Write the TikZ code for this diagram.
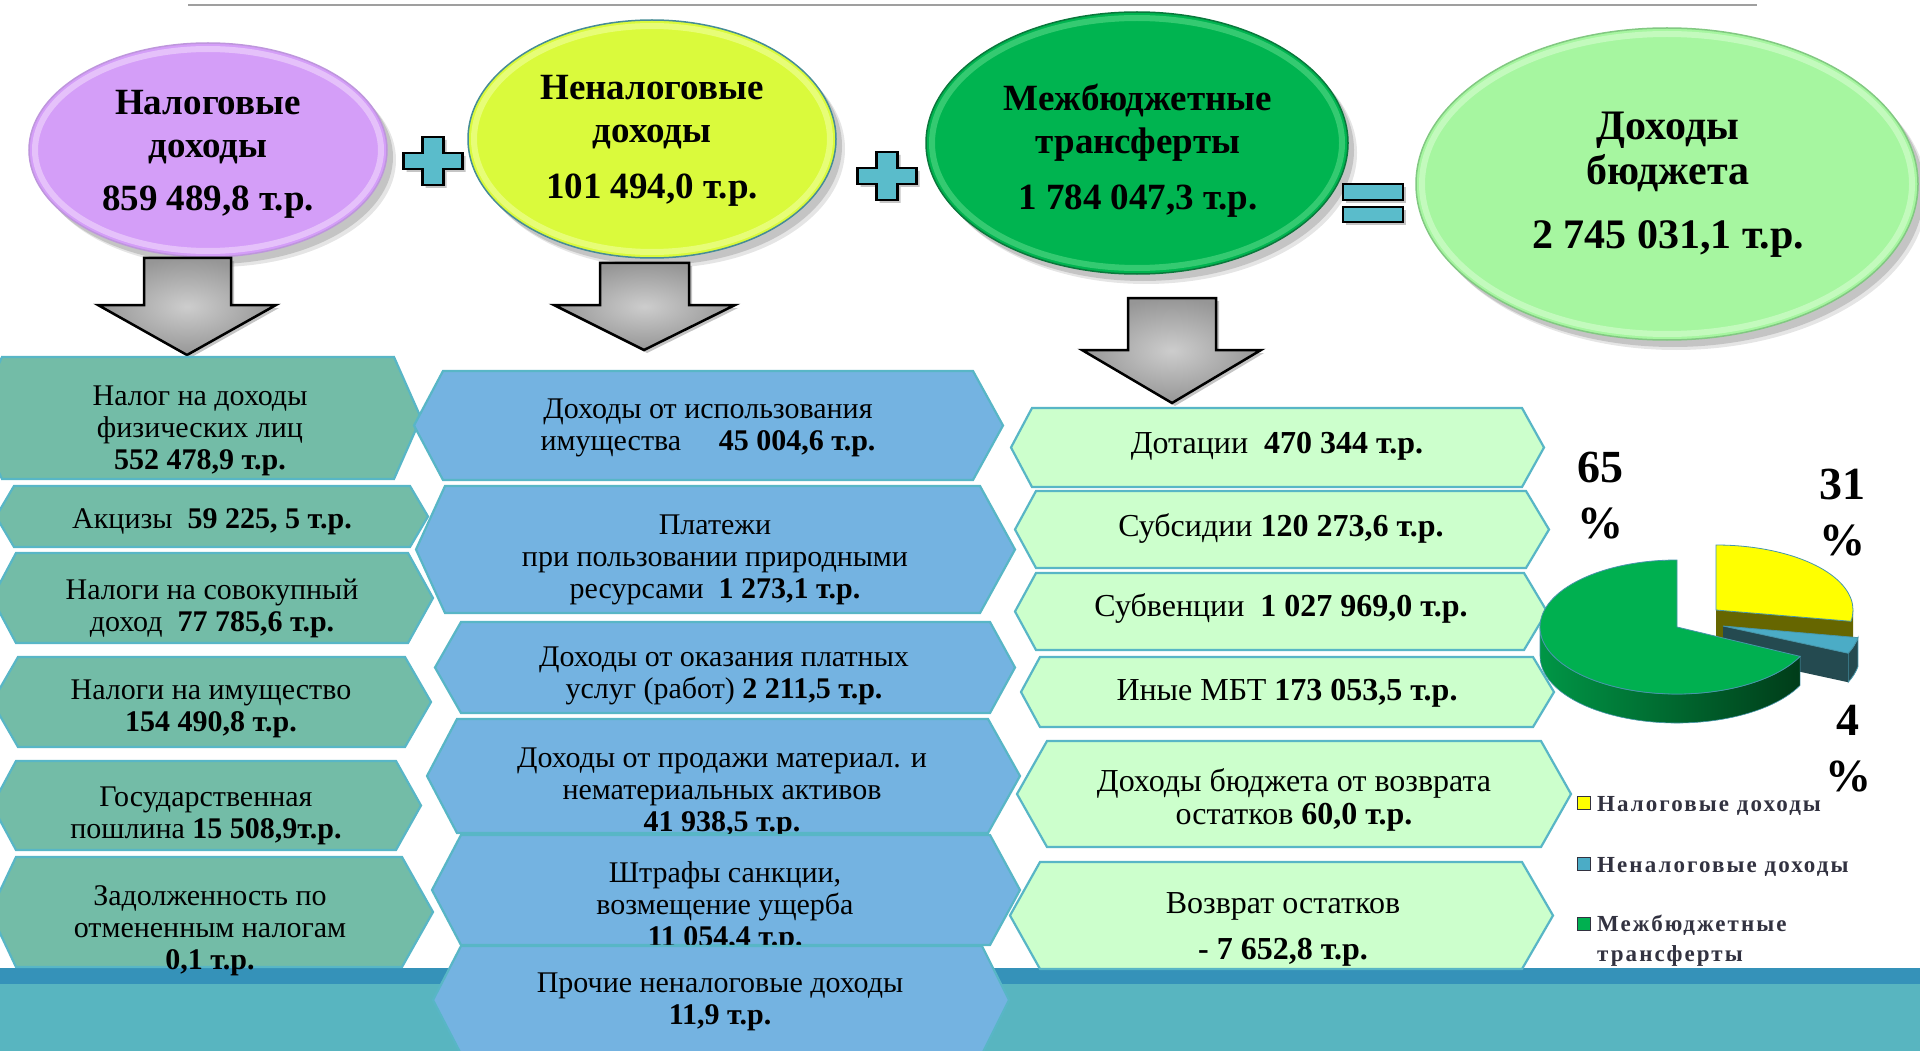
\documentclass[tikz,border=0pt]{standalone}
\usepackage{fontspec}
\setmainfont{Liberation Serif}
\newfontfamily\legendfont[LetterSpace=9]{Liberation Serif}
\usetikzlibrary{shadows,calc}
\definecolor{tealL}{RGB}{115,188,167}
\definecolor{blueM}{RGB}{116,179,225}
\definecolor{greenR}{RGB}{204,255,204}
\definecolor{hexborder}{RGB}{88,182,198}
\definecolor{violetE}{RGB}{212,158,248}
\definecolor{violetRim}{RGB}{236,206,252}
\definecolor{violetLine}{RGB}{190,150,220}
\definecolor{yellowE}{RGB}{218,250,60}
\definecolor{yellowRim}{RGB}{236,255,140}
\definecolor{yellowLine}{RGB}{70,140,150}
\definecolor{greenE}{RGB}{0,180,80}
\definecolor{greenRim}{RGB}{70,210,125}
\definecolor{greenLine}{RGB}{10,120,60}
\definecolor{lightE}{RGB}{166,246,160}
\definecolor{lightRim}{RGB}{205,252,200}
\definecolor{lightLine}{RGB}{130,200,130}
\definecolor{signC}{RGB}{90,188,203}
\definecolor{bandDark}{RGB}{53,146,185}
\definecolor{bandTeal}{RGB}{88,181,192}
\definecolor{arrowIn}{RGB}{205,205,205}
\definecolor{arrowOut}{RGB}{150,150,150}
\definecolor{pieGreen}{RGB}{0,176,80}
\definecolor{pieYellow}{RGB}{255,255,0}
\definecolor{pieOlive}{RGB}{102,102,0}
\definecolor{pieTeal}{RGB}{75,172,198}
\definecolor{tealDark}{RGB}{36,74,80}
\definecolor{pieEdge}{RGB}{70,150,170}
\definecolor{gSideL}{RGB}{0,150,70}
\definecolor{gSideR}{RGB}{0,60,25}
\definecolor{legendC}{RGB}{50,50,64}
\tikzset{
  hexshape/.style={draw=hexborder, line width=2.2pt, line join=miter},
  htext/.style={font=\fontsize{30}{32}\selectfont, align=center, inner sep=0pt},
  rtext/.style={font=\fontsize{32}{33}\selectfont, align=center, inner sep=0pt},
  etext/.style={font=\fontsize{37}{43}\selectfont\bfseries, align=center, inner sep=0pt},
  signshape/.style={fill=signC, draw=black, line width=2.2pt, line join=miter,
    drop shadow={opacity=0.45, shadow xshift=3pt, shadow yshift=-3pt}},
  blockarrow/.style={draw=black, line width=2.5pt, line join=miter, shade, shading=radial,
    inner color=arrowIn, outer color=arrowOut,
    drop shadow={opacity=0.45, shadow xshift=3pt, shadow yshift=-3pt}},
  pct/.style={font=\fontsize{46}{56}\selectfont\bfseries, align=center, inner sep=0pt},
  legendtext/.style={font={\legendfont\fontsize{23}{30}\selectfont\bfseries}, text=legendC, align=left, anchor=west, inner sep=0pt},
  lsq/.style={draw=legendC, line width=1pt},
}
% #1 fill, #2 xl, #3 xtl, #4 xtr, #5 xr, #6 yt, #7 yb
\newcommand\hexbox[7]{%
  \path[hexshape, fill=#1] (#2,{(#6+#7)/2}) -- (#3,#6) -- (#4,#6) -- (#5,{(#6+#7)/2}) -- (#4,#7) -- (#3,#7) -- cycle;}
% #1 cx, #2 cy, #3 rx, #4 ry, #5 fill, #6 rim, #7 line
\newcommand\glossy[7]{%
  \fill[black, opacity=0.10] ({#1+9},{#2+10}) ellipse[x radius=#3pt, y radius=#4pt];
  \fill[black, opacity=0.14] ({#1+6},{#2+7}) ellipse[x radius=#3pt, y radius=#4pt];
  \fill[#5] (#1,#2) ellipse[x radius=#3pt, y radius=#4pt];
  \draw[#6, line width=6pt, opacity=0.75] (#1,#2) ellipse[x radius={(#3-6)*1pt}, y radius={(#4-6)*1pt}];
  \draw[#7, line width=1.5pt] (#1,#2) ellipse[x radius=#3pt, y radius=#4pt];}
% #1 cx, #2 cy
\newcommand\plussign[2]{%
  \path[signshape] ({#1-10.5},{#2-24}) -- ({#1+10.5},{#2-24}) -- ({#1+10.5},{#2-8}) -- ({#1+29.5},{#2-8})
    -- ({#1+29.5},{#2+8}) -- ({#1+10.5},{#2+8}) -- ({#1+10.5},{#2+24}) -- ({#1-10.5},{#2+24})
    -- ({#1-10.5},{#2+8}) -- ({#1-29.5},{#2+8}) -- ({#1-29.5},{#2-8}) -- ({#1-10.5},{#2-8}) -- cycle;}
% #1 sx1, #2 sx2, #3 ytop, #4 yhead, #5 hx1, #6 hx2, #7 tipx, #8 tipy
\newcommand\blockdown[8]{%
  \path[blockarrow] (#1,#3) -- (#2,#3) -- (#2,#4) -- (#6,#4) -- (#7,#8) -- (#5,#4) -- (#1,#4) -- cycle;}
\begin{document}
\begin{tikzpicture}[x=1pt, y=-1pt]
\useasboundingbox (0,0) rectangle (1920,1051);
\clip (0,0) rectangle (1920,1051);
\fill[white] (0,0) rectangle (1920,1051);
% top rule
\draw[gray!75, line width=2pt] (188,5) -- (1757,5);
% bottom band
\fill[bandDark] (0,968) rectangle (1920,984);
\fill[bandTeal] (0,984) rectangle (1920,1051);

% ellipses
\glossy{208}{150}{179}{107}{violetE}{violetRim}{violetLine}
\glossy{652}{139}{184}{119}{yellowE}{yellowRim}{yellowLine}
\glossy{1137}{143}{211}{131}{greenE}{greenRim}{greenLine}
\glossy{1667}{184}{251}{156}{lightE}{lightRim}{lightLine}

\node[etext] (e1) at (208,154) {Налоговые\\доходы\\[10pt]859 489,8 т.р.};
\node[etext] (e2) at (652,141) {Неналоговые\\доходы\\[13pt]101 494,0 т.р.};
\node[etext] (e3) at (1138,151) {Межбюджетные\\трансферты\\[13pt]1 784 047,3 т.р.};
\node[etext, font=\fontsize{42}{45}\selectfont\bfseries] (e4) at (1668,185) {Доходы\\бюджета\\[19pt]2 745 031,1 т.р.};

% signs
\plussign{433}{161}
\plussign{887}{176}
\path[signshape] (1343,184) rectangle (1403,200);
\path[signshape] (1343,207) rectangle (1403,222);

% arrows
\blockdown{144}{231}{258}{305}{98}{276}{187}{355}
\blockdown{600}{689}{263}{305}{554}{735}{644}{350}
\blockdown{1128}{1216}{298}{350}{1082}{1261}{1172}{403}

% left column
\hexbox{tealL}{-26}{2}{394}{421}{357}{479}
\node[htext] (l1) at (200,431) {Налог на доходы\\физических лиц\\\textbf{552 478,9 т.р.}};
\hexbox{tealL}{-4}{14}{410}{428}{486}{547}
\node[htext] (l2) at (212,522) {Акцизы \ \textbf{59 225, 5 т.р.}};
\hexbox{tealL}{-8}{16}{408}{433}{553}{643}
\node[htext] (l3) at (212,608) {Налоги на совокупный\\доход \ \textbf{77 785,6 т.р.}};
\hexbox{tealL}{-8}{18}{405}{431}{657}{747}
\node[htext] (l4) at (211,709) {Налоги на имущество\\\textbf{154 490,8 т.р.}};
\hexbox{tealL}{-8}{16}{396}{421}{761}{850}
\node[htext] (l5) at (206,816) {Государственная\\пошлина \textbf{15 508,9т.р.}};
\hexbox{tealL}{-10}{16}{402}{433}{857}{967}
\node[htext] (l6) at (210,931) {Задолженность по\\отмененным налогам\\\textbf{0,1 т.р.}};

% middle column
\hexbox{blueM}{414}{443}{973}{1003}{371}{480}
\node[htext] (m1) at (708,428) {Доходы от использования\\имущества\hspace{1em}\ \textbf{45 004,6 т.р.}};
\hexbox{blueM}{416}{445}{980}{1015}{486}{613}
\node[htext] (m2) at (715,560) {Платежи\\при пользовании природными\\ресурсами \ \textbf{1 273,1 т.р.}};
\hexbox{blueM}{435}{461}{990}{1015}{622}{713}
\node[htext] (m3) at (724,676) {Доходы от оказания платных\\услуг (работ) \textbf{2 211,5 т.р.}};
\hexbox{blueM}{427}{457}{988}{1020}{719}{833}
\node[htext] (m4) at (722,793) {Доходы от продажи материал. и\\нематериальных активов\\\textbf{41 938,5 т.р.}};
\hexbox{blueM}{432}{461}{990}{1020}{835}{945}
\node[htext] (m5) at (725,907) {Штрафы санкции,\\возмещение ущерба\\\textbf{11 054,4 т.р.}};
\hexbox{blueM}{433}{461}{982}{1009}{946}{1054}
\node[htext] (m6) at (720,1002) {Прочие неналоговые доходы\\\textbf{11,9 т.р.}};

% right column
\hexbox{greenR}{1011}{1032}{1522}{1544}{408}{487}
\node[rtext] (r1) at (1277,446) {Дотации \ \textbf{470 344 т.р.}};
\hexbox{greenR}{1015}{1036}{1526}{1549}{491}{568}
\node[rtext] (r2) at (1281,528) {Субсидии \textbf{120 273,6 т.р.}};
\hexbox{greenR}{1015}{1036}{1524}{1547}{573}{650}
\node[rtext] (r3) at (1281,608) {Субвенции \ \textbf{1 027 969,0 т.р.}};
\hexbox{greenR}{1021}{1040}{1533}{1554}{657}{727}
\node[rtext] (r4) at (1287,693) {Иные МБТ \textbf{173 053,5 т.р.}};
\hexbox{greenR}{1017}{1047}{1541}{1571}{741}{847}
\node[rtext] (r5) at (1294,800) {Доходы бюджета от возврата\\остатков \textbf{60,0 т.р.}};
\hexbox{greenR}{1010}{1040}{1522}{1553}{862}{969}
\node[rtext] (r6) at (1283,929) {Возврат остатков\\[13pt]\textbf{- 7 652,8 т.р.}};

% pie chart
\coordinate (G) at (1677,627);
\coordinate (Y) at (1716,610);
\coordinate (T) at (1723,626);
% yellow slice
\path[fill=pieOlive] ($(Y)+(0:137pt and 65pt)$) arc[start angle=0, end angle=-10, x radius=137pt, y radius=65pt]
  -- ++(0,29) arc[start angle=-10, end angle=0, x radius=137pt, y radius=65pt] -- cycle;
\path[fill=pieOlive] (Y) -- ($(Y)+(-10:137pt and 65pt)$) -- ++(0,29) -- ($(Y)+(0,29)$) -- cycle;
\path[fill=pieYellow, draw=pieEdge, line width=0.8pt] (Y) -- ($(Y)+(90:137pt and 65pt)$)
  arc[start angle=90, end angle=-10, x radius=137pt, y radius=65pt] -- cycle;
% teal slice
\path[fill=tealDark, draw=pieEdge, line width=0.8pt] ($(T)+(-10:137pt and 67pt)$)
  arc[start angle=-10, end angle=-24, x radius=137pt, y radius=67pt]
  -- ++(0,29) arc[start angle=-24, end angle=-10, x radius=137pt, y radius=67pt] -- cycle;
\path[fill=tealDark] (T) -- ($(T)+(-24:137pt and 67pt)$) -- ++(0,29) -- ($(T)+(0,29)$) -- cycle;
\path[fill=pieTeal, draw=pieEdge, line width=0.8pt] (T) -- ($(T)+(-10:137pt and 67pt)$)
  arc[start angle=-10, end angle=-24, x radius=137pt, y radius=67pt] -- cycle;
% green slice
\path[left color=gSideL, right color=gSideR, draw=pieEdge, line width=0.6pt]
  ($(G)+(180:137pt and 67pt)$) arc[start angle=180, end angle=334, x radius=137pt, y radius=67pt]
  -- ++(0,29) arc[start angle=334, end angle=180, x radius=137pt, y radius=67pt] -- cycle;
\path[fill=pieGreen, draw=pieEdge, line width=0.8pt] (G) -- ($(G)+(90:137pt and 67pt)$)
  arc[start angle=90, end angle=334, x radius=137pt, y radius=67pt] -- cycle;

% percentages
\node[pct] (p65) at (1600,496) {65\\\%};
\node[pct] (p31) at (1842,513) {31\\\%};
\node[pct] (p4) at (1848,749) {4\\\%};

% legend
\path[lsq, fill=pieYellow] (1577,796) rectangle (1590,809);
\path[lsq, fill=pieTeal] (1577,857) rectangle (1590,870);
\path[lsq, fill=pieGreen] (1577,917) rectangle (1590,930);
\node[legendtext] (lg1) at (1597,806) {Налоговые доходы};
\node[legendtext] (lg2) at (1597,867) {Неналоговые доходы};
\node[legendtext] (lg3) at (1597,941) {Межбюджетные\\трансферты};
\end{tikzpicture}
\end{document}
